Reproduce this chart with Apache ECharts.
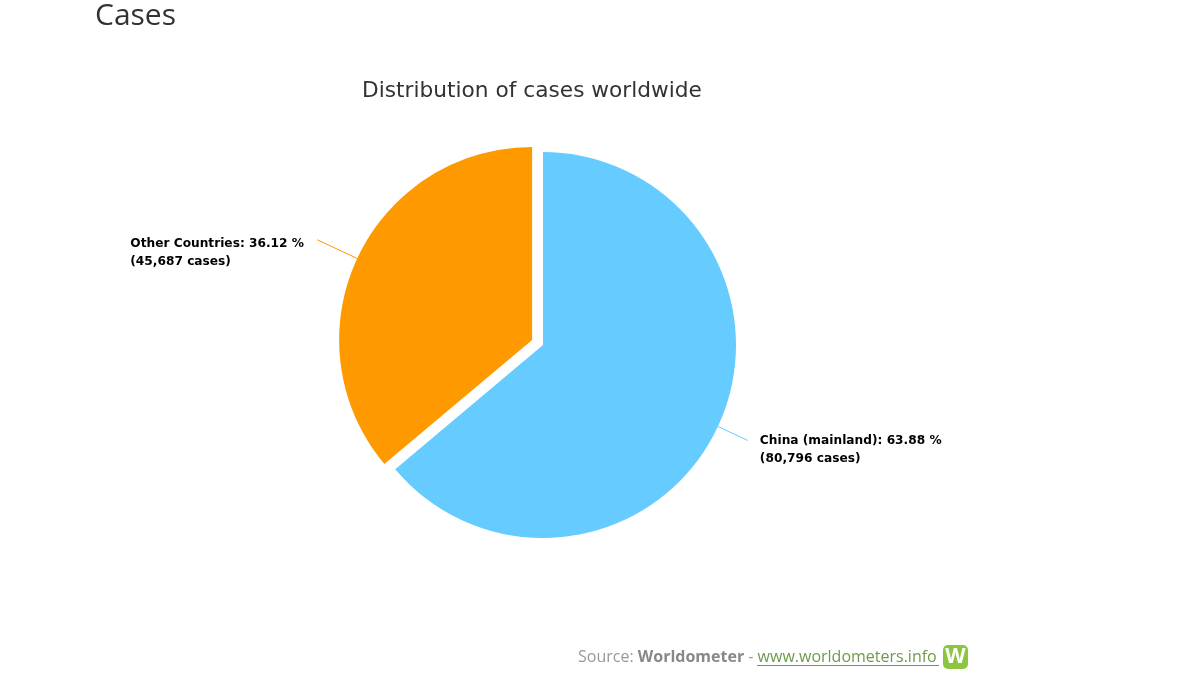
<!DOCTYPE html>
<html><head><meta charset="utf-8">
<style>html,body{margin:0;padding:0;background:#fff}#c{width:1200px;height:675px}</style>
<script src="https://cdn.jsdelivr.net/npm/echarts@6/dist/echarts.min.js"></script>
</head><body><div id="c"></div>
<script>
const categories = ['China (mainland)', 'Other Countries'];
const percents = [63.88, 36.12];
const caseCounts = ['80,796', '45,687'];
const colors = ['#66CCFF', '#FF9900'];
const chart = echarts.init(document.getElementById('c'));
const labelFont = {color:'#000',fontFamily:'DejaVu Sans',fontSize:12.2,fontWeight:'bold',lineHeight:18,width:182,align:'left'};
chart.setOption({
  animation:false,
  backgroundColor:'#fff',
  title:[
    {text:'Cases',left:90,top:-4,textStyle:{fontFamily:'Open Sans',fontSize:30,fontWeight:'normal',color:'#333'}},
    {text:'Distribution of cases worldwide',left:527,top:75,textAlign:'center',textStyle:{fontFamily:'DejaVu Sans',fontSize:21.7,fontWeight:'normal',color:'#333'}}
  ],
  graphic:[
    {type:'text',left:578,top:649,style:{rich:{a:{fill:'#999',fontFamily:'Open Sans',fontSize:16},b:{fill:'#888',fontFamily:'Open Sans',fontSize:16,fontWeight:'bold'},u:{fill:'#6f9a4a',fontFamily:'Open Sans',fontSize:16}},text:'{a|Source: }{b|Worldometer}{a| - }{u|www.worldometers.info}'}},
    {type:'rect',left:757,top:665,shape:{width:182,height:1},style:{fill:'#6f9a4a'}},
    {type:'rect',left:943,top:645,shape:{width:25,height:24,r:5},style:{fill:'#8cc63f'}},
    {type:'text',x:955.5,y:657,style:{text:'W',fill:'#fff',fontFamily:'Open Sans',fontWeight:'bold',fontSize:21,align:'center',verticalAlign:'middle'}}
  ],
  series:[{
    type:'pie',
    center:[543,345],
    radius:[0,193],
    startAngle:90,
    clockwise:true,
    selectedMode:'single',
    selectedOffset:12,
    data:categories.map((n,i)=>({
      name:n,value:percents[i],selected:i===1,
      itemStyle:{color:colors[i]},
      label:{
        formatter:()=>'{t|'+n+': '+percents[i].toFixed(2)+' %}\n{t|('+caseCounts[i]+' cases)}',
        distanceToLabelLine:i===1?5:12,
        padding:[i===1?27:18,0,0,0]
      },
      labelLine:{length:i===1?44:33}
    })),
    label:{rich:{t:labelFont}},
    labelLine:{show:true,length2:0,lineStyle:{width:1}},
    emphasis:{scale:false}
  }]
});
</script></body></html>
